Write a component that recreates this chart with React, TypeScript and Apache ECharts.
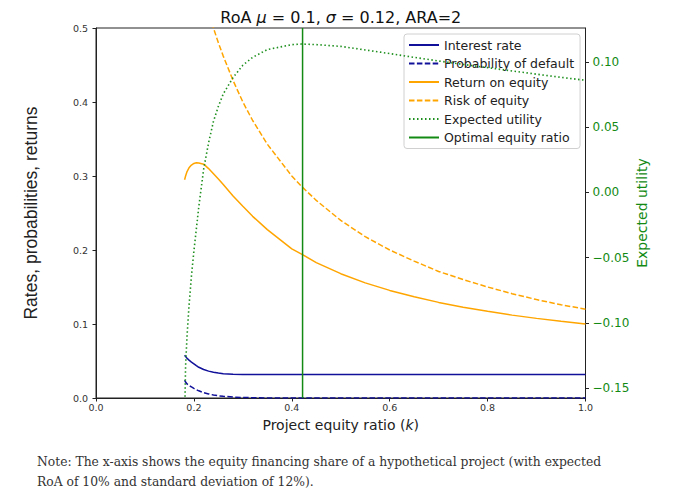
import React, { useEffect, useRef } from "react";
import * as echarts from "echarts";

// Project equity ratio k (shared x values)
const K = [
  0.181, 0.183, 0.186, 0.19, 0.195, 0.2, 0.205, 0.21, 0.22, 0.23, 0.24, 0.25, 0.26, 0.28, 0.3, 0.32,
  0.35, 0.4, 0.42, 0.45, 0.5, 0.55, 0.6, 0.65, 0.7, 0.75, 0.8, 0.85, 0.9, 0.95, 1.0,
];
const INTEREST_RATE = [
  0.0578, 0.056, 0.0538, 0.0512, 0.0486, 0.0462, 0.0438, 0.0415, 0.0385, 0.0363, 0.0348, 0.0337, 0.0329,
  0.0322, 0.0319, 0.0318, 0.0318, 0.0318, 0.0318, 0.0318, 0.0318, 0.0318, 0.0318, 0.0318, 0.0318, 0.0318,
  0.0318, 0.0318, 0.0318, 0.0318, 0.0318,
];
const PROB_DEFAULT = [
  0.024, 0.0215, 0.019, 0.0168, 0.0149, 0.013, 0.0113, 0.0097, 0.0072, 0.0055, 0.004, 0.003, 0.0023,
  0.0013, 0.0007, 0.0004, 0.0001, 0, 0, 0, 0, 0, 0, 0, 0, 0, 0, 0, 0, 0, 0,
];
const RETURN_ON_EQUITY = [
  0.295, 0.3, 0.306, 0.311, 0.3148, 0.317, 0.318, 0.3175, 0.316, 0.31, 0.303, 0.296, 0.2885, 0.273, 0.259,
  0.2455, 0.2275, 0.2015, 0.1945, 0.183, 0.168, 0.1556, 0.1454, 0.1367, 0.1292, 0.1227, 0.1171, 0.112,
  0.1076, 0.1036, 0.1,
];
const RISK_OF_EQUITY = [
  0.663, 0.656, 0.645, 0.632, 0.615, 0.6, 0.585, 0.571, 0.545, 0.522, 0.5, 0.48, 0.462, 0.429, 0.4, 0.375,
  0.343, 0.3, 0.286, 0.267, 0.24, 0.218, 0.2, 0.185, 0.171, 0.16, 0.15, 0.141, 0.133, 0.126, 0.12,
];
const EXPECTED_UTILITY = [
  -0.175, -0.133, -0.11, -0.087, -0.064, -0.045, -0.028, -0.011, 0.018, 0.038, 0.0545, 0.066, 0.0755, 0.088,
  0.0975, 0.1035, 0.1095, 0.1132, 0.1137, 0.1133, 0.1119, 0.1092, 0.1064, 0.1035, 0.1007, 0.0981, 0.0956,
  0.0931, 0.0906, 0.0882, 0.0859,
];
const OPTIMAL_K = 0.422;
const RIGHT_TICKS = [-0.15, -0.1, -0.05, 0, 0.05, 0.1];
const NOTE_LINES = [
  "Note: The x-axis shows the equity financing share of a hypothetical project (with expected",
  "RoA of 10% and standard deviation of 12%).",
];

const NAVY = "#10109a";
const ORANGE = "#ffa500";
const DOT_GREEN = "#1f901f";
const LINE_GREEN = "#138a13";
const FONT = "DejaVu Sans";

const pairs = (vals: number[]) => K.map((k, i) => [k, vals[i]]);

export default function App() {
  const ref = useRef<HTMLDivElement>(null);
  useEffect(() => {
    if (!ref.current) return;
    const chart = echarts.init(ref.current, null, { renderer: "svg" });
    const dashed = [5.5, 2.4];
    const dotted = [1.5, 2.5];
    chart.setOption({
      animation: false,
      backgroundColor: "#ffffff",
      grid: {
        left: 96,
        right: 87.5,
        top: 28,
        bottom: 96,
        show: true,
        borderColor: "#222",
        borderWidth: 1,
      },
      legend: {
        orient: "vertical",
        left: 404,
        top: 34,
        itemWidth: 30,
        itemHeight: 14,
        itemGap: 4.5,
        padding: [4, 6, 4, 4],
        borderColor: "#d0d0d0",
        borderWidth: 1,
        borderRadius: 3,
        backgroundColor: "rgba(255,255,255,0.8)",
        itemStyle: { opacity: 0 },
        textStyle: { fontSize: 12.5, fontFamily: FONT, color: "#222", lineHeight: 14 },
        data: [
          "Interest rate",
          "Probability of default",
          "Return on equity",
          "Risk of equity",
          "Expected utility",
          "Optimal equity ratio",
        ],
      },
      xAxis: {
        type: "value",
        min: 0,
        max: 1,
        interval: 0.2,
        name: "{n|Project equity ratio (}{i|k}{n|)}",
        nameLocation: "middle",
        nameGap: 20,
        nameTextStyle: {
          rich: {
            n: { fontSize: 14, fontFamily: FONT, color: "#222" },
            i: { fontSize: 14, fontFamily: FONT, fontStyle: "italic", color: "#222" },
          },
        },
        axisLine: { show: true, onZero: false, lineStyle: { color: "#222" } },
        axisTick: { show: true, length: 3.5, lineStyle: { color: "#222" } },
        axisLabel: {
          formatter: (v: number) => v.toFixed(1),
          fontSize: 9.5,
          fontFamily: FONT,
          color: "#333",
          margin: 4,
        },
        splitLine: { show: false },
      },
      yAxis: [
        {
          type: "value",
          position: "left",
          min: 0,
          max: 0.5,
          interval: 0.1,
          name: "Rates, probabilities, returns",
          nameLocation: "middle",
          nameRotate: 90,
          nameGap: 56,
          nameTextStyle: { fontSize: 17.5, fontFamily: "Liberation Sans", color: "#222" },
          axisLine: { show: true, onZero: false, lineStyle: { color: "#222" } },
          axisTick: { show: true, length: 3.5, lineStyle: { color: "#222" } },
          axisLabel: {
            formatter: (v: number) => v.toFixed(1),
            fontSize: 9.5,
            fontFamily: FONT,
            color: "#333",
            margin: 8,
          },
          splitLine: { show: false },
        },
        {
          type: "value",
          position: "right",
          min: -0.1576,
          max: 0.126,
          name: "Expected utility",
          nameLocation: "middle",
          nameRotate: 90,
          nameGap: 49,
          nameMoveOverlap: false,
          nameTextStyle: { fontSize: 14, fontFamily: FONT, color: LINE_GREEN },
          axisLine: { show: true, onZero: false, lineStyle: { color: "#222" } },
          axisTick: { show: true, length: 3.5, customValues: RIGHT_TICKS, lineStyle: { color: "#222" } },
          axisLabel: {
            customValues: RIGHT_TICKS,
            formatter: (v: number) => (v < -1e-9 ? "\u2212" : "") + Math.abs(v).toFixed(2),
            fontSize: 12,
            fontFamily: FONT,
            color: LINE_GREEN,
            margin: 7,
          },
          splitLine: { show: false },
        },
      ],
      graphic: [
        {
          type: "text",
          x: 340.75,
          y: 17,
          style: {
            text: "{a|RoA }{b|μ}{a| = 0.1, }{b|σ}{a| = 0.12, ARA=2}",
            align: "center",
            verticalAlign: "middle",
            rich: {
              a: { fontSize: 16, fontFamily: FONT, fill: "#111" },
              b: { fontSize: 16, fontFamily: FONT, fontStyle: "italic", fill: "#111" },
            },
          },
        },
        ...NOTE_LINES.map((t, i) => ({
          type: "text",
          x: 37,
          y: 461 + i * 20,
          style: {
            text: t,
            fontSize: 13.7,
            fontFamily: "'DejaVu Serif Condensed', 'Liberation Serif', serif",
            fill: "#333",
            verticalAlign: "middle",
          },
        })),
      ],
      series: [
        {
          name: "Interest rate",
          type: "line",
          yAxisIndex: 0,
          data: pairs(INTEREST_RATE),
          symbol: "none",
          showSymbol: false,
          lineStyle: { color: NAVY, width: 1.5 },
          itemStyle: { color: NAVY },
          z: 3,
        },
        {
          name: "Probability of default",
          type: "line",
          yAxisIndex: 0,
          data: pairs(PROB_DEFAULT),
          symbol: "none",
          showSymbol: false,
          lineStyle: { color: NAVY, width: 1.5, type: dashed },
          itemStyle: { color: NAVY },
          z: 3,
        },
        {
          name: "Return on equity",
          type: "line",
          yAxisIndex: 0,
          data: pairs(RETURN_ON_EQUITY),
          symbol: "none",
          showSymbol: false,
          lineStyle: { color: ORANGE, width: 1.5 },
          itemStyle: { color: ORANGE },
          z: 3,
        },
        {
          name: "Risk of equity",
          type: "line",
          yAxisIndex: 0,
          data: pairs(RISK_OF_EQUITY),
          symbol: "none",
          showSymbol: false,
          lineStyle: { color: ORANGE, width: 1.5, type: dashed },
          itemStyle: { color: ORANGE },
          z: 3,
        },
        {
          name: "Expected utility",
          type: "line",
          yAxisIndex: 1,
          data: pairs(EXPECTED_UTILITY),
          symbol: "none",
          showSymbol: false,
          lineStyle: { color: DOT_GREEN, width: 1.6, type: dotted },
          itemStyle: { color: DOT_GREEN },
          z: 10,
        },
        {
          name: "Optimal equity ratio",
          type: "line",
          yAxisIndex: 0,
          data: [
            [OPTIMAL_K, 0],
            [OPTIMAL_K, 0.5],
          ],
          symbol: "none",
          showSymbol: false,
          lineStyle: { color: LINE_GREEN, width: 1.5 },
          itemStyle: { color: LINE_GREEN },
          z: 3,
        },
      ],
    });
    return () => chart.dispose();
  }, []);
  return (
    <div
      ref={ref}
      style={{ position: "absolute", left: 0, top: 0, width: 673, height: 494, background: "#fff" }}
    />
  );
}
